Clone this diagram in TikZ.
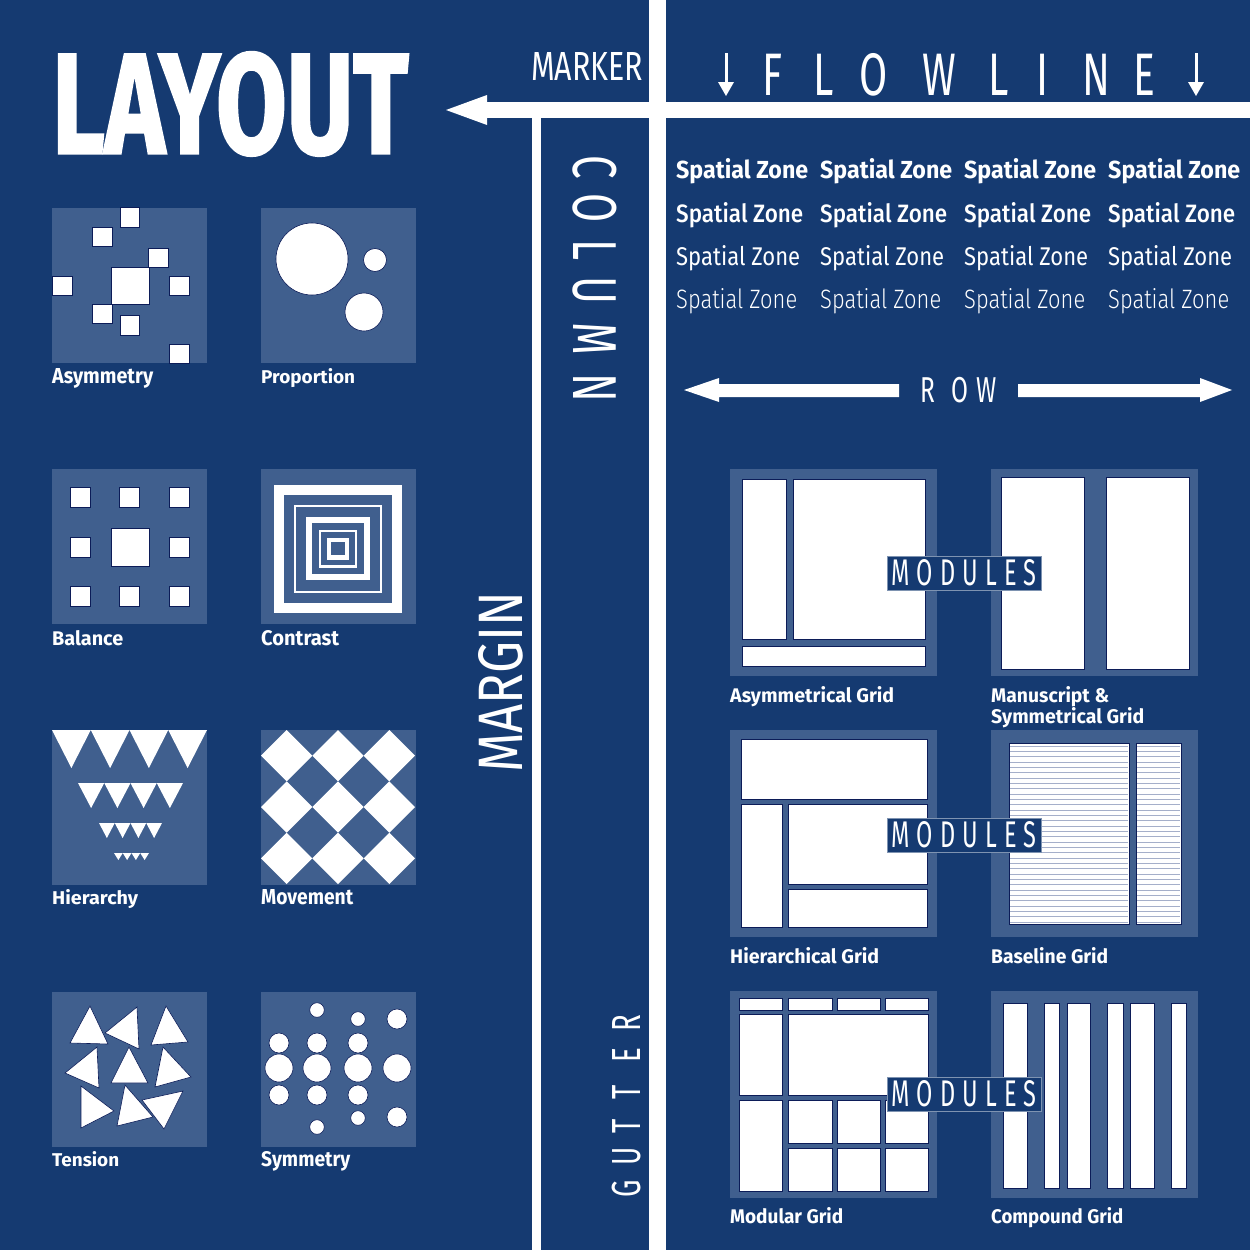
\documentclass[tikz,border=0pt]{standalone}
\usepackage{fontspec}
\setmainfont{Fira Sans}
\newfontfamily\fB{Fira Sans Bold}
\newfontfamily\fM{Fira Sans Medium}
\newfontfamily\fR{Fira Sans}
\newfontfamily\fL{Fira Sans Light}
\definecolor{bg}{RGB}{21,58,113}
\definecolor{panel}{RGB}{64,95,142}
\definecolor{navy}{RGB}{12,28,88}
\definecolor{bl}{RGB}{165,175,202}
\newcommand\rb[4]{\resizebox{#1pt}{#2pt}{#3#4}}
\begin{document}
\begin{tikzpicture}[x=1pt,y=-1pt,
  wh/.style={fill=white, draw=navy, line width=0.6pt},
  pan/.style={fill=panel},
  lab/.style={anchor=base west, inner sep=0pt, text=white},
  letter/.style={anchor=base, inner sep=0pt, text=white},
  modbox/.style={fill=bg, draw=white!45!bg, line width=0.6pt, minimum width=154pt, minimum height=34pt, inner sep=0pt, text=white}]
\useasboundingbox (0,0) rectangle (1250,1250);
\fill[bg] (0,0) rectangle (1250,1250);

% structure
\fill[white] (649,0) rectangle (666,1250);
\fill[white] (487,102) rectangle (1250,118);
\fill[white] (446,110) -- (487,95) -- (487,125) -- cycle;
\fill[white] (532,118) rectangle (541,1250);

% panels
\foreach \x in {52,261} \foreach \y in {208,469,730,992} \fill[pan] (\x,\y) rectangle ++(155,155);
\foreach \x in {730,991} \foreach \y in {469,730,991} \fill[pan] (\x,\y) rectangle ++(207,207);

% Asymmetry
\foreach \a/\b/\c/\d in {120/207/139/227, 92/227/112/246, 148/248/168/267, 111/267/149/304, 52/276/72/295, 169/276/189/295, 92/304/112/323, 120/315/139/335, 169/344/189/363}
  \filldraw[wh] (\a,\b) rectangle (\c,\d);
% Proportion
\filldraw[wh] (312,259) circle (36);
\filldraw[wh] (375,260) circle (11.5);
\filldraw[wh] (364,312) circle (19);
% Balance
\foreach \cx in {80,129,179} \foreach \cy in {497,547,596} {
  \ifnum\cx=129 \ifnum\cy=547 \else \filldraw[wh] ({\cx-10},{\cy-10}) rectangle ++(20,20); \fi
  \else \filldraw[wh] ({\cx-10},{\cy-10}) rectangle ++(20,20); \fi }
\filldraw[wh] (111,528) rectangle (149,566);
% Contrast
\foreach \hs/\c in {64/white, 54/panel, 44/white, 42/panel, 31.6/white, 25.6/panel, 19/white, 16.6/panel, 11/white, 6.6/panel}
  \fill[\c] ({338-\hs},{548.5-\hs}) rectangle ({338+\hs},{548.5+\hs});
% Hierarchy
\foreach \t/\bo/\xl/\w in {730/768/52/38.75, 783/808/78/26.25, 823/838/99/15.75, 853/860/114/8.75}
  \foreach \k in {0,1,2,3}
    \fill[white] ({\xl+\k*\w},\t) -- ({\xl+(\k+1)*\w},\t) -- ({\xl+(\k+0.5)*\w},\bo) -- cycle;
% Movement
\foreach \i in {0,1,2} \foreach \j in {0,1,2}
  \fill[white] ({261+25.667*2*\i},{730+25.667*(1+2*\j)}) -- ++(25.667,-25.667) -- ++(25.667,25.667) -- ++(-25.667,25.667) -- cycle;
% Tension
\foreach \p in {{(90,1006) -- (70,1043) -- (108,1044)},
                {(137,1007) -- (105,1033) -- (139,1049)},
                {(166,1006) -- (151,1045) -- (188,1042)},
                {(97,1047) -- (65,1073) -- (99,1088)},
                {(129,1047) -- (111,1083) -- (148,1083)},
                {(163,1047) -- (155,1087) -- (191,1077)},
                {(81,1086) -- (81,1128) -- (114,1111)},
                {(125,1085) -- (117,1126) -- (153,1117)},
                {(142,1100) -- (183,1091) -- (164,1129)}}
  \filldraw[wh] \p -- cycle;
% Symmetry
\foreach \cx/\cy/\r in {279/1043/10, 279/1068/14, 279/1095/10,
   317/1010/7.3, 317/1043/10, 317/1068/14, 317/1095/10, 317/1127/7.3,
   358/1019/7.3, 358/1043/10, 358/1068/14, 358/1095/10, 358/1118/7.3,
   397/1019/10, 397/1068/14, 397/1117/10}
  \filldraw[wh] (\cx,\cy) circle (\r);

% Right grids
% Asymmetrical
\filldraw[wh] (742,479) rectangle (786,639);
\filldraw[wh] (793,479) rectangle (925,639);
\filldraw[wh] (742,646) rectangle (925,666);
% Manuscript
\filldraw[wh] (1001,477) rectangle (1084,669);
\filldraw[wh] (1106,477) rectangle (1189,669);
% Hierarchical
\filldraw[wh] (741,739) rectangle (927,799);
\filldraw[wh] (741,804) rectangle (782,927);
\filldraw[wh] (788,804) rectangle (927,884);
\filldraw[wh] (788,889) rectangle (927,927);
% Baseline
\filldraw[wh] (1009,743) rectangle (1129,924);
\filldraw[wh] (1136,743) rectangle (1181,924);
\foreach \k in {0,...,33} {
  \draw[bl, line width=0.8pt] (1010,{746+5.33*\k}) -- (1128,{746+5.33*\k});
  \draw[bl, line width=0.8pt] (1137,{746+5.33*\k}) -- (1180,{746+5.33*\k}); }
% Modular
\foreach \a/\c in {739/782, 788/832, 837/880, 885/928} \filldraw[wh] (\a,998) rectangle (\c,1010);
\filldraw[wh] (739,1014) rectangle (782,1095);
\filldraw[wh] (788,1014) rectangle (928,1095);
\filldraw[wh] (739,1100) rectangle (782,1191);
\foreach \a/\c in {788/832, 837/880, 885/928} {
  \filldraw[wh] (\a,1100) rectangle (\c,1143);
  \filldraw[wh] (\a,1148) rectangle (\c,1191); }
% Compound
\foreach \a/\c in {1003/1027, 1044/1059, 1067/1090, 1107/1123, 1130/1154, 1171/1186}
  \filldraw[wh] (\a,1003) rectangle (\c,1188);

% Title and structural labels
\node[anchor=north west, inner sep=0pt, text=white] (title) at (52,52) {\rb{356}{101}{\fB\addfontfeature{FakeBold=2}}{LAYOUT}};
\node[lab] (marker) at (531,80) {\rb{112}{28}{\fR}{MARKER}};
\foreach \ch/\cx [count=\n] in {F/773, L/824, O/874, W/939, L/999, I/1043, N/1096, E/1144}
  \node[letter] (fl\n) at (\cx,95) {\fontsize{60}{60}\selectfont\fR\scalebox{0.68}[1]{\ch}};
\foreach \ax in {726,1196} {
  \draw[white, line width=3pt] (\ax,53) -- (\ax,86);
  \fill[white] ({\ax-8},82) -- ({\ax+8},82) -- (\ax,96) -- cycle; }

% Spatial zones
\foreach \yb/\w/\f [count=\r] in {178/132/\fB, 222/127/\fM, 265/124/\fR, 308/121/\fL}
  \foreach \xs [count=\c] in {676,820,964,1108}
    \node[lab] (sz\r\c) at (\xs,\yb) {\rb{\w}{20}{\f}{Spatial Zone}};

% ROW
\fill[white] (684,390) -- (719,378) -- (719,384) -- (899,384) -- (899,397) -- (719,397) -- (719,402) -- cycle;
\fill[white] (1232,390) -- (1200,378) -- (1200,384) -- (1018,384) -- (1018,397) -- (1200,397) -- (1200,402) -- cycle;
\foreach \ch/\cx [count=\n] in {R/928, O/960, W/987}
  \node[letter] (row\n) at (\cx,402) {\fontsize{36}{36}\selectfont\fR\scalebox{0.68}[1]{\ch}};

% COLUMN
\foreach \ch/\cy [count=\n] in {C/167, O/208, L/250, U/290, M/339, N/388}
  \node[letter, rotate=-90] (co\n) at (573,\cy) {\fontsize{62}{62}\selectfont\fR\scalebox{0.68}[1]{\ch}};
% MARGIN
\node[anchor=base west, rotate=90, inner sep=0pt, text=white] (margin) at (522,773) {\rb{181}{44}{\fR}{MARGIN}};
% GUTTER
\foreach \ch/\cy [count=\n] in {G/1189, U/1156, T/1126, T/1092, E/1055, R/1023}
  \node[letter, rotate=90] (gu\n) at (640,\cy) {\fontsize{40.6}{40.6}\selectfont\fR\scalebox{0.68}[1]{\ch}};

% MODULES
\foreach \my [count=\n] in {573,835,1094}
  \node[modbox] (mod\n) at (964,\my) {\rb{145}{26}{\fR}{M\hspace{0.3em}O\hspace{0.3em}D\hspace{0.3em}U\hspace{0.3em}L\hspace{0.3em}E\hspace{0.3em}S}};

% Labels
\node[lab] (lAsym) at (52,383) {\rb{101}{15}{\fB}{Asymmetry}};
\node[lab] (lProp) at (261,383) {\rb{94}{15}{\fB}{Proportion}};
\node[lab] (lBal) at (52,645) {\rb{71}{15}{\fB}{Balance}};
\node[lab] (lCon) at (261,645) {\rb{78}{15}{\fB}{Contrast}};
\node[lab] (lHie) at (52,904) {\rb{86}{15}{\fB}{Hierarchy}};
\node[lab] (lMov) at (261,904) {\rb{92}{15}{\fB}{Movement}};
\node[lab] (lTen) at (52,1166) {\rb{67}{15}{\fB}{Tension}};
\node[lab] (lSym) at (261,1166) {\rb{89}{15}{\fB}{Symmetry}};
\node[lab] (gAsym) at (730,702) {\rb{164}{16}{\fB}{Asymmetrical Grid}};
\node[lab] (gMan1) at (991,702) {\rb{118}{16}{\fB}{Manuscript \&}};
\node[lab] (gMan2) at (991,723) {\rb{153}{16}{\fB}{Symmetrical Grid}};
\node[lab] (gHie) at (730,963) {\rb{149}{16}{\fB}{Hierarchical Grid}};
\node[lab] (gBas) at (991,963) {\rb{117}{16}{\fB}{Baseline Grid}};
\node[lab] (gMod) at (730,1223) {\rb{113}{16}{\fB}{Modular Grid}};
\node[lab] (gCom) at (991,1223) {\rb{132}{16}{\fB}{Compound Grid}};
\end{tikzpicture}
\end{document}
